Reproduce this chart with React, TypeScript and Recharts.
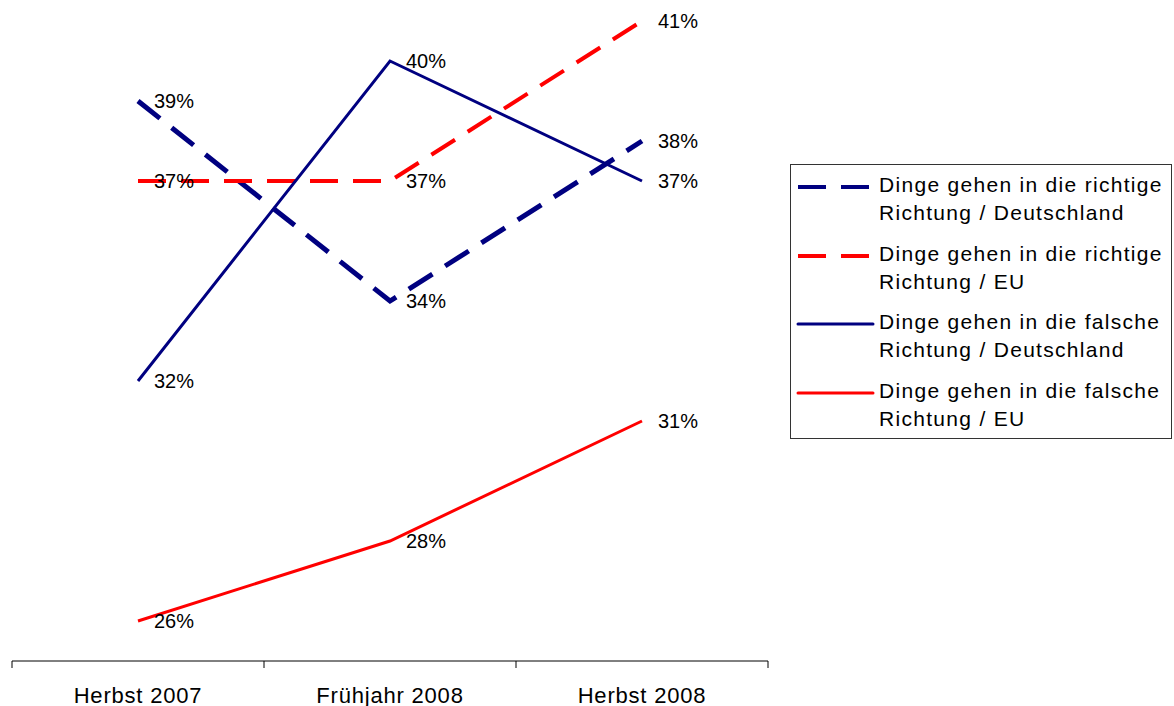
import { LineChart, Line, XAxis, YAxis, LabelList } from "recharts";

// Umfrage: Richtung Deutschland / EU, drei Wellen
const KATEGORIEN = ["Herbst 2007", "Frühjahr 2008", "Herbst 2008"];

const RICHTIG_DE = [39, 34, 38];
const RICHTIG_EU = [37, 37, 41];
const FALSCH_DE = [32, 40, 37];
const FALSCH_EU = [26, 28, 31];

const NAMEN = [
  ["Dinge gehen in die richtige", "Richtung / Deutschland"],
  ["Dinge gehen in die richtige", "Richtung / EU"],
  ["Dinge gehen in die falsche", "Richtung / Deutschland"],
  ["Dinge gehen in die falsche", "Richtung / EU"],
];

const SERIEN = [
  { key: "richtigDE", farbe: "#000080", breite: 5, strich: "28 15" },
  { key: "richtigEU", farbe: "#ff0000", breite: 4, strich: "28 15" },
  { key: "falschDE", farbe: "#000080", breite: 3, strich: undefined },
  { key: "falschEU", farbe: "#ff0000", breite: 3, strich: undefined },
];

const dados = KATEGORIEN.map((k, i) => ({
  name: k,
  richtigDE: RICHTIG_DE[i],
  richtigEU: RICHTIG_EU[i],
  falschDE: FALSCH_DE[i],
  falschEU: FALSCH_EU[i],
}));

const FONT = "'Liberation Sans', Arial, sans-serif";
const TICK_MARGIN = 26;
const STRICH = 7;

// Beschriftung + Trennstriche an den Bandgrenzen
function Tick(props: any) {
  const { x, y, payload, index, visibleTicksCount, width } = props;
  const halb =
    payload?.offset || (width && visibleTicksCount ? width / visibleTicksCount / 2 : 0);
  const achseY = y - TICK_MARGIN;
  const letzter = index === visibleTicksCount - 1;
  return (
    <g>
      <line
        x1={x - halb}
        x2={x - halb}
        y1={achseY}
        y2={achseY + STRICH}
        stroke="#000"
      />
      {letzter && (
        <line
          x1={x + halb}
          x2={x + halb}
          y1={achseY}
          y2={achseY + STRICH}
          stroke="#000"
        />
      )}
      <text
        x={x}
        y={y}
        dy="0.71em"
        textAnchor="middle"
        fill="#000"
        fontSize={22}
        fontFamily={FONT}
        letterSpacing={0.8}
      >
        {payload.value}
      </text>
    </g>
  );
}

function Legende() {
  return (
    <div
      style={{
        position: "absolute",
        left: 790,
        top: 164,
        width: 382,
        height: 275,
        border: "1px solid #333",
        fontFamily: FONT,
        fontSize: 21,
        letterSpacing: 1.3,
        lineHeight: "28px",
        color: "#000",
        boxSizing: "border-box",
        paddingTop: 6,
      }}
    >
      {SERIEN.map((s, i) => (
        <div
          key={s.key}
          style={{ display: "flex", height: 68.5, alignItems: "flex-start" }}
        >
          <svg width={88} height={28} style={{ flex: "none" }}>
            <line
              x1={7}
              x2={s.strich ? 79 : 82}
              y1={16}
              y2={16}
              stroke={s.farbe}
              strokeWidth={s.strich ? 4 : 3}
              strokeDasharray={s.strich}
              strokeLinecap={s.strich ? "butt" : "round"}
            />
          </svg>
          <div>
            {NAMEN[i][0]}
            <br />
            {NAMEN[i][1]}
          </div>
        </div>
      ))}
    </div>
  );
}

export default function App() {
  return (
    <div
      style={{
        position: "absolute",
        left: 0,
        top: 0,
        width: 1174,
        height: 706,
        background: "#fff",
        overflow: "hidden",
      }}
    >
      <LineChart
        width={1174}
        height={706}
        data={dados}
        margin={{ top: 1, right: 406, bottom: 0, left: 12 }}
      >
        <XAxis
          dataKey="name"
          scale="band"
          axisLine={{ stroke: "#000", strokeWidth: 1 }}
          tickLine={false}
          tickSize={0}
          tickMargin={TICK_MARGIN}
          height={45}
          interval={0}
          tick={<Tick />}
        />
        <YAxis hide domain={[25, 41.5]} allowDataOverflow />
        {SERIEN.map((s, i) => (
          <Line
            key={s.key}
            dataKey={s.key}
            name={NAMEN[i].join(" ")}
            stroke={s.farbe}
            strokeWidth={s.breite}
            strokeDasharray={s.strich}
            strokeLinecap="butt"
            dot={false}
            activeDot={false}
            isAnimationActive={false}
          >
            <LabelList
              dataKey={s.key}
              position="right"
              offset={16}
              formatter={(v: number) => `${v}%`}
              style={{ fontSize: 20, fontFamily: FONT, fill: "#000" }}
            />
          </Line>
        ))}
      </LineChart>
      <Legende />
    </div>
  );
}
